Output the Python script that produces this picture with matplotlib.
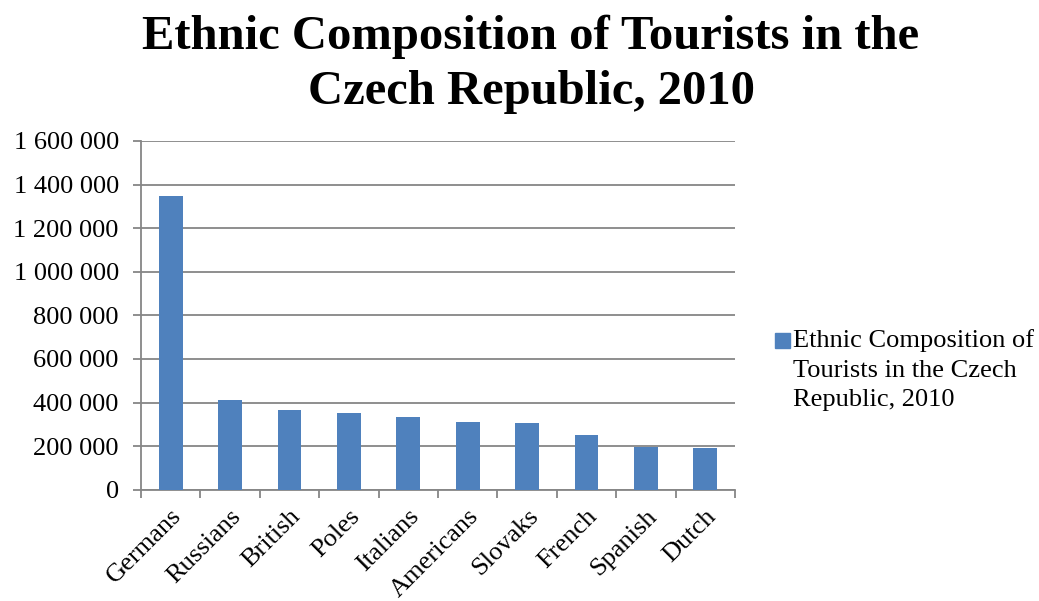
import matplotlib.pyplot as plt
from matplotlib.patches import Rectangle
from matplotlib.ticker import FixedLocator, FuncFormatter
from matplotlib.transforms import ScaledTranslation

plt.rcParams['font.family'] = ['Liberation Serif', 'DejaVu Serif']

# tourists by nationality, 2010
nationalities = ['Germans', 'Russians', 'British', 'Poles', 'Italians',
                 'Americans', 'Slovaks', 'French', 'Spanish', 'Dutch']
tourists = [1347000, 411000, 367000, 350000, 332000,
            310000, 307000, 249000, 194000, 193000]
series_name = 'Ethnic Composition of Tourists in the Czech Republic, 2010'

bar_color = '#4F81BD'
grid_color = '#868686'

fig = plt.figure(figsize=(10.39, 6.01), dpi=100)
ax = fig.add_axes([0.1357, 0.1852, 0.5717, 0.5802])

x = range(len(nationalities))
ax.bar(x, tourists, width=0.4, color=bar_color, zorder=3)

ax.set_xlim(-0.5, len(nationalities) - 0.5)
ax.set_ylim(0, 1600000)
ax.set_yticks(range(0, 1600001, 200000))
ax.yaxis.set_major_formatter(FuncFormatter(lambda v, p: f'{int(v):,}'.replace(',', ' ')))
ax.yaxis.grid(True, color=grid_color, linewidth=1.3, zorder=0)

# category labels without ticks, boundary ticks between categories
ax.set_xticks(list(x))
ax.set_xticklabels(nationalities, rotation=45, ha='right', va='top',
                   rotation_mode='anchor', fontsize=19)
shift = ScaledTranslation(-0.06, 0, fig.dpi_scale_trans)
for lbl in ax.get_xticklabels():
    lbl.set_transform(lbl.get_transform() + shift)
ax.xaxis.set_minor_locator(FixedLocator([i - 0.5 for i in range(len(nationalities) + 1)]))
ax.tick_params(axis='x', which='major', length=0, pad=11)
ax.tick_params(axis='x', which='minor', length=6, width=1.3, color=grid_color)
ax.tick_params(axis='y', length=6, width=1.3, color=grid_color, pad=10, labelsize=19)

for side in ('top', 'right'):
    ax.spines[side].set_visible(False)
for side in ('left', 'bottom'):
    ax.spines[side].set_color(grid_color)
    ax.spines[side].set_linewidth(1.3)

fig.text(531 / 1039, 1 - 15 / 601, 'Ethnic Composition of Tourists in the\nCzech Republic, 2010',
         ha='center', va='top', fontsize=35, fontweight='bold', linespacing=1.3)

# legend drawn by hand so the swatch sits on the first line
fig.patches.append(Rectangle((775 / 1039, 1 - 348 / 601), 15 / 1039, 15 / 601,
                             transform=fig.transFigure, color=bar_color))
fig.text(793 / 1039, 1 - 329 / 601, 'Ethnic Composition of\nTourists in the Czech\nRepublic, 2010',
         ha='left', va='top', fontsize=19, linespacing=1.45)

fig.savefig('out.png', dpi=100)
